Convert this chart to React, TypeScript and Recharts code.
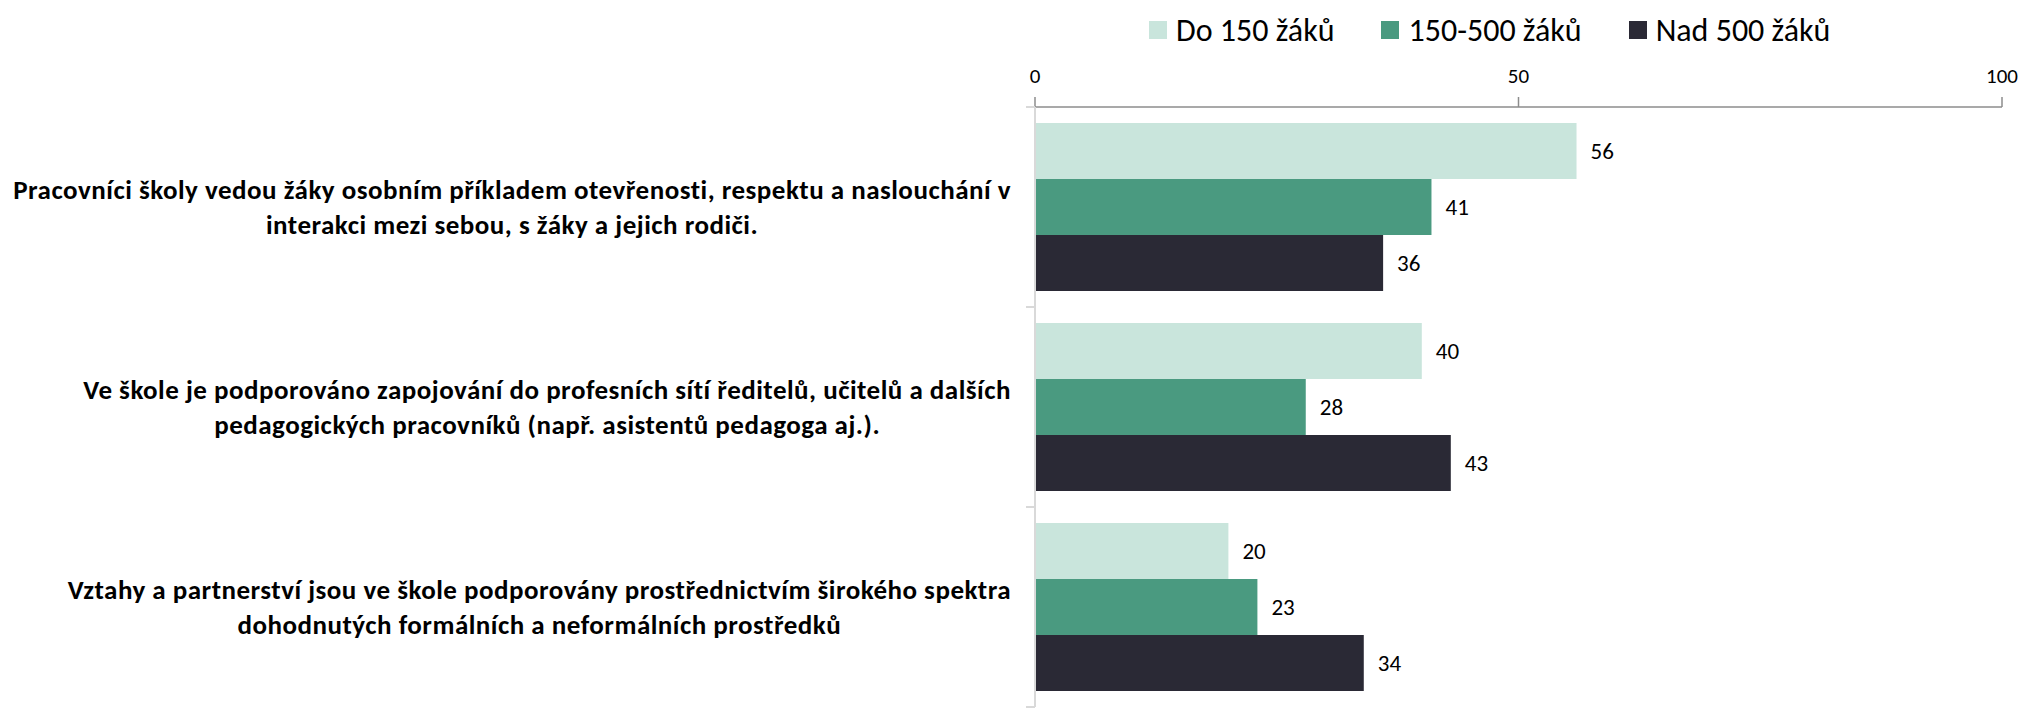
import { BarChart, Bar, XAxis, YAxis, Legend, LabelList } from 'recharts'

const categories = [
    'Pracovníci školy vedou žáky osobním příkladem otevřenosti, respektu a naslouchání v\ninterakci mezi sebou, s žáky a jejich rodiči.',
    'Ve škole je podporováno zapojování do profesních sítí ředitelů, učitelů a dalších\npedagogických pracovníků (např. asistentů pedagoga aj.).',
    'Vztahy a partnerství jsou ve škole podporovány prostřednictvím širokého spektra\ndohodnutých formálních a neformálních prostředků'
]

const seriesNames = ['Do 150 žáků', '150-500 žáků', 'Nad 500 žáků']
const seriesColors = ['#C9E5DC', '#4A9A80', '#2A2935']

const do150 = [56, 40, 20]
const od150do500 = [41, 28, 23]
const nad500 = [36, 43, 34]

const xTicks = [0, 50, 100]

const data = categories.map((kategorie, i) => ({
    kategorie,
    s0: do150[i],
    s1: od150do500[i],
    s2: nad500[i]
}))

const FONT = 'Carlito, Lato, sans-serif'

function CategoryTick(props: any) {
    const { x, y, payload, index } = props
    const half = payload?.offset ?? 100
    const lines = String(payload.value).split('\n')
    const axisX = x
    return (
        <g>
            <foreignObject x={0} y={y - 45} width={axisX - 24} height={90}>
                <div
                    style={{
                        width: '100%',
                        height: '100%',
                        display: 'flex',
                        justifyContent: 'flex-end',
                        alignItems: 'center'
                    }}
                >
                    <div
                        style={{
                            textAlign: 'center',
                            fontFamily: FONT,
                            fontWeight: 700,
                            fontSize: 27,
                            letterSpacing: 0.5,
                            lineHeight: '35px',
                            color: '#000',
                            whiteSpace: 'nowrap'
                        }}
                    >
                        {lines.map((l, k) => (
                            <div key={k}>{l}</div>
                        ))}
                    </div>
                </div>
            </foreignObject>
            <line x1={axisX - 9} x2={axisX} y1={y - half} y2={y - half} stroke="#D9D9D9" strokeWidth={2} />
            {index === categories.length - 1 && (
                <line x1={axisX - 9} x2={axisX} y1={y + half} y2={y + half} stroke="#D9D9D9" strokeWidth={2} />
            )}
        </g>
    )
}

function LegendContent() {
    return (
        <div
            style={{
                height: 52,
                display: 'flex',
                alignItems: 'center',
                paddingLeft: 1149,
                gap: 47,
                fontFamily: FONT,
                fontSize: 32,
                color: '#000'
            }}
        >
            {seriesNames.map((name, i) => (
                <div key={name} style={{ display: 'flex', alignItems: 'center' }}>
                    <span
                        style={{
                            width: 18,
                            height: 18,
                            background: seriesColors[i],
                            display: 'inline-block',
                            marginRight: 9
                        }}
                    />
                    <span>{name}</span>
                </div>
            ))}
        </div>
    )
}

export default function App() {
    return (
        <div style={{ position: 'absolute', left: 0, top: 0, width: 2024, height: 708, background: '#fff' }}>
            <BarChart
                width={2024}
                height={708}
                data={data}
                layout="vertical"
                margin={{ top: 4, right: 22, left: 0, bottom: 1 }}
                barCategoryGap={16}
                barGap={0}
            >
                <Legend verticalAlign="top" align="left" content={<LegendContent />} />
                <XAxis
                    type="number"
                    orientation="top"
                    domain={[0, 100]}
                    ticks={xTicks}
                    height={51}
                    axisLine={{ stroke: '#8C8C8C', strokeWidth: 1.5 }}
                    tickLine={{ stroke: '#8C8C8C', strokeWidth: 1.5 }}
                    tickSize={10}
                    tickMargin={14}
                    tick={{ fill: '#000', fontSize: 21, fontFamily: FONT }}
                />
                <YAxis
                    type="category"
                    dataKey="kategorie"
                    width={1035}
                    axisLine={{ stroke: '#D9D9D9', strokeWidth: 2 }}
                    tickLine={false}
                    tickSize={0}
                    tickMargin={0}
                    tick={<CategoryTick />}
                    interval={0}
                />
                {['s0', 's1', 's2'].map((key, i) => (
                    <Bar key={key} dataKey={key} name={seriesNames[i]} fill={seriesColors[i]} isAnimationActive={false}>
                        <LabelList
                            dataKey={key}
                            position="right"
                            offset={14}
                            fill="#000"
                            fontSize={23}
                            fontFamily={FONT}
                        />
                    </Bar>
                ))}
            </BarChart>
        </div>
    )
}
